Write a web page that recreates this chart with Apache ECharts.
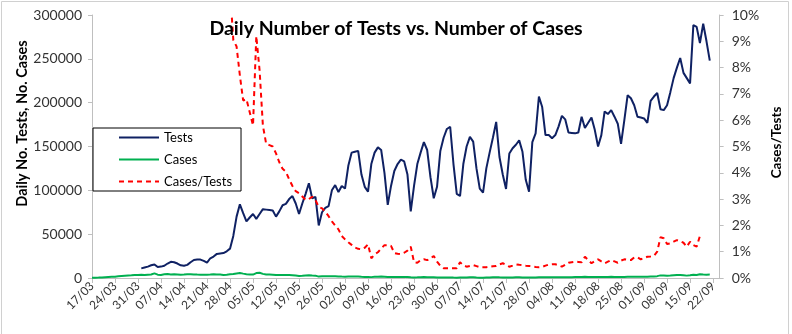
<!DOCTYPE html>
<html><head><meta charset="utf-8">
<script src="https://cdn.jsdelivr.net/npm/echarts@6/dist/echarts.min.js"></script>
<style>html,body{margin:0;padding:0;background:#fff}#c{width:792px;height:334px}</style>
</head><body><div id="c"></div><script>
const dates = [
'17/03','18/03','19/03','20/03','21/03','22/03','23/03','24/03','25/03','26/03','27/03','28/03','29/03','30/03','31/03',
'01/04','02/04','03/04','04/04','05/04','06/04','07/04','08/04','09/04','10/04','11/04','12/04','13/04','14/04','15/04',
'16/04','17/04','18/04','19/04','20/04','21/04','22/04','23/04','24/04','25/04','26/04','27/04','28/04','29/04','30/04',
'01/05','02/05','03/05','04/05','05/05','06/05','07/05','08/05','09/05','10/05','11/05','12/05','13/05','14/05','15/05',
'16/05','17/05','18/05','19/05','20/05','21/05','22/05','23/05','24/05','25/05','26/05','27/05','28/05','29/05','30/05','31/05',
'01/06','02/06','03/06','04/06','05/06','06/06','07/06','08/06','09/06','10/06','11/06','12/06','13/06','14/06','15/06',
'16/06','17/06','18/06','19/06','20/06','21/06','22/06','23/06','24/06','25/06','26/06','27/06','28/06','29/06','30/06',
'01/07','02/07','03/07','04/07','05/07','06/07','07/07','08/07','09/07','10/07','11/07','12/07','13/07','14/07','15/07',
'16/07','17/07','18/07','19/07','20/07','21/07','22/07','23/07','24/07','25/07','26/07','27/07','28/07','29/07','30/07','31/07',
'01/08','02/08','03/08','04/08','05/08','06/08','07/08','08/08','09/08','10/08','11/08','12/08','13/08','14/08','15/08',
'16/08','17/08','18/08','19/08','20/08','21/08','22/08','23/08','24/08','25/08','26/08','27/08','28/08','29/08','30/08','31/08',
'01/09','02/09','03/09','04/09','05/09','06/09','07/09','08/09','09/09','10/09','11/09','12/09','13/09','14/09','15/09',
'16/09','17/09','18/09','19/09','20/09','21/09','22/09','23/09','24/09'
];
const tests = [
null,null,null,null,null,null,null,null,null,null,null,null,null,null,null,
11000,12000,13000,14500,15500,12500,13000,14000,16500,18500,
18000,16500,14500,14000,15000,18000,20500,21000,21000,19500,
17500,22500,24500,27500,28000,28500,30500,33500,48000,70000,
84000,74000,64500,69000,73000,67500,73000,78500,78000,77500,
77000,70000,76000,83000,84500,90000,93500,85000,73000,85000,
96000,108000,91000,92500,60000,75000,80000,82000,100000,106000,
98000,105000,102000,128000,143000,144000,145000,118000,104000,98500,
130000,143000,149000,146000,120000,83500,105000,122000,130000,135000,
133000,118000,76000,105000,130000,143000,155000,146000,115000,91000,
104000,145000,160000,170000,172500,130000,96000,93500,130000,150000,
161000,155500,125000,102000,97500,125000,143000,160000,178000,138000,
118000,101500,142000,148000,152000,157000,144000,112000,98500,155000,
165000,207000,195000,163000,163000,159500,163000,173000,185000,181000,
166000,165500,165000,166000,184000,171000,177000,183000,169000,150000,
163000,190000,187000,191500,184000,176000,153000,180000,208500,205000,
197000,184000,183000,182000,177000,202000,207000,211000,192500,191500,
197000,212000,228000,240000,251000,234000,228000,222000,288500,286500,
268000,290000,270000,248000,
null,null,null
];
const cases = [
300,400,500,700,900,1100,1300,1500,1900,2300,
2600,2800,3000,3300,3500,3600,3400,3800,4000,5300,
3800,3500,4200,4500,4000,4300,4100,3700,3900,4200,
4400,4100,3900,3800,3600,3800,4000,4300,4100,3900,
3500,3800,4200,4500,5200,5700,5000,4400,4100,3900,
5600,6000,4700,4000,3900,3800,3300,3500,3500,3400,
3300,3200,2800,2400,2600,2900,3200,2800,2700,1600,
2000,2000,1900,2100,2100,1800,1600,1500,1700,1800,
1650,1600,1300,1150,1250,1000,1300,1450,1600,1500,
1050,1000,1150,1200,1230,1260,1220,900,680,760,
970,1100,990,860,760,650,650,590,630,640,
480,360,560,620,640,740,760,560,420,400,
510,610,720,820,720,660,510,610,700,790,
790,700,530,450,680,690,850,820,770,830,
830,850,830,800,900,960,990,1020,1010,1100,
1380,1200,1030,1080,1070,1030,1070,1160,1300,1160,
1020,1010,1280,1440,1390,1540,1450,1300,1380,1430,
1660,1740,2110,2980,2890,2540,2800,3140,3460,3520,
3130,2710,3060,3600,3410,4290,4000,3800,3900,
null,null,null
];
const ratio = [
null,null,null,null,null,null,null,null,null,null,
null,null,null,null,null,null,null,null,null,null,
null,null,null,null,null,null,null,null,null,null,
null,null,null,null,null,null,null,null,null,null,
null,
0.14,0.11,0.0905,0.088,0.077,0.0675,0.068,0.063,0.058,0.092,
0.079,0.058,0.051,0.0505,0.0500,0.0474,0.0440,0.0415,0.0404,0.0375,
0.0350,0.0330,0.0322,0.0310,0.0297,0.0300,0.0309,0.0297,0.0270,0.0265,
0.0252,0.0235,0.0215,0.0200,0.0185,0.0160,0.0147,0.0136,0.0126,0.0116,
0.0111,0.0109,0.0115,0.0128,0.0075,0.0090,0.0098,0.0112,0.0125,0.0125,
0.0122,0.0095,0.0092,0.0091,0.0096,0.0104,0.0119,0.0060,0.0058,0.0068,
0.0071,0.0068,0.0074,0.0084,0.0062,0.0046,0.0037,0.0037,0.0037,0.0037,
0.0037,0.0060,0.0048,0.0043,0.0046,0.0049,0.0045,0.0041,0.0041,0.0041,
0.0043,0.0045,0.0046,0.0052,0.0056,0.0050,0.0043,0.0047,0.0052,0.0050,
0.0049,0.0047,0.0046,0.0044,0.0042,0.0041,0.0042,0.0047,0.0051,0.0052,
0.0052,0.0048,0.0043,0.0050,0.0058,0.0060,0.0062,0.0061,0.0060,0.0081,
0.0068,0.0056,0.0064,0.0071,0.0063,0.0056,0.0062,0.0068,0.0063,0.0058,
0.0066,0.0071,0.0069,0.0068,0.0078,0.0079,0.0071,0.0076,0.0081,0.0082,
0.0084,0.0100,0.0155,0.0151,0.0129,0.0132,0.0138,0.0144,0.0140,0.0134,
0.0119,0.0138,0.0125,0.0119,0.0160,
null,null,null,null,null,null
];
const seriesNames = ['Tests','Cases','Cases/Tests'];
const titleText = 'Daily Number of Tests vs. Number of Cases';
const leftAxisName = 'Daily No. Tests, No. Cases';
const rightAxisName = 'Cases/Tests';

const FONT = 'Lato, "Open Sans", sans-serif';
const chart = echarts.init(document.getElementById('c'), null, {renderer: 'canvas'});
chart.setOption({
  animation: false,
  backgroundColor: '#fff',
  textStyle: {fontFamily: FONT},
  graphic: [{type: 'rect', shape: {x: 1.5, y: 1.5, width: 787, height: 340}, style: {fill: 'none', stroke: '#d0d0d0', lineWidth: 1}, silent: true}],
  title: {text: titleText, left: 'center', top: 14, textStyle: {fontFamily: FONT, fontSize: 19.5, fontWeight: 'bold', color: '#000'}},
  legend: {
    data: seriesNames, orient: 'vertical', left: 93, top: 128,
    backgroundColor: '#fff', borderColor: '#000', borderWidth: 1,
    padding: [3, 9, 3, 25], itemWidth: 40, itemHeight: 12, itemGap: 9,
    itemStyle: {opacity: 0},
    textStyle: {fontFamily: FONT, fontSize: 13, color: '#000'}
  },
  grid: {left: 92, right: 70, top: 15, bottom: 56, containLabel: false},
  xAxis: {
    type: 'category', data: dates, boundaryGap: false,
    axisLine: {lineStyle: {color: '#bfbfbf'}},
    axisTick: {interval: 6, length: 5, lineStyle: {color: '#bfbfbf'}},
    axisLabel: {interval: 6, rotate: 45, fontSize: 12, color: '#333', margin: 6, fontFamily: FONT}
  },
  yAxis: [{
    type: 'value', min: 0, max: 300000, interval: 50000,
    axisLine: {show: true, lineStyle: {color: '#bfbfbf'}},
    axisTick: {show: true, length: 4, lineStyle: {color: '#bfbfbf'}},
    splitLine: {show: false},
    axisLabel: {fontSize: 14, color: '#333', margin: 10, fontFamily: FONT, formatter: v => String(v)},
    name: leftAxisName, nameLocation: 'middle', nameGap: 62, nameRotate: 90, nameMoveOverlap: false,
    nameTextStyle: {fontFamily: FONT, fontSize: 14.5, fontWeight: 'bold', color: '#000', padding: [0, 0, 0, 46]}
  }, {
    type: 'value', min: 0, max: 0.1, interval: 0.01, position: 'right',
    axisLine: {show: true, lineStyle: {color: '#bfbfbf'}},
    axisTick: {show: true, length: 4, lineStyle: {color: '#bfbfbf'}},
    splitLine: {show: false},
    axisLabel: {fontSize: 14, color: '#333', margin: 12, fontFamily: FONT,
      formatter: v => Math.round(v * 100) + '%'},
    name: rightAxisName, nameLocation: 'middle', nameGap: 47, nameRotate: 90,
    nameTextStyle: {fontFamily: FONT, fontSize: 13.5, fontWeight: 'bold', color: '#000', padding: [0, 0, 0, 8]}
  }],
  series: [
    {name: seriesNames[0], type: 'line', data: tests, yAxisIndex: 0, symbol: 'none', connectNulls: false,
     lineStyle: {color: '#0f2163', width: 2}, itemStyle: {color: '#0f2163'}},
    {name: seriesNames[1], type: 'line', data: cases, yAxisIndex: 0, symbol: 'none',
     lineStyle: {color: '#00b050', width: 2}, itemStyle: {color: '#00b050'}},
    {name: seriesNames[2], type: 'line', data: ratio, yAxisIndex: 1, symbol: 'none', clip: true,
     lineStyle: {color: '#ff0000', width: 2, type: [5, 4]}, itemStyle: {color: '#ff0000'}}
  ]
});
</script></body></html>
